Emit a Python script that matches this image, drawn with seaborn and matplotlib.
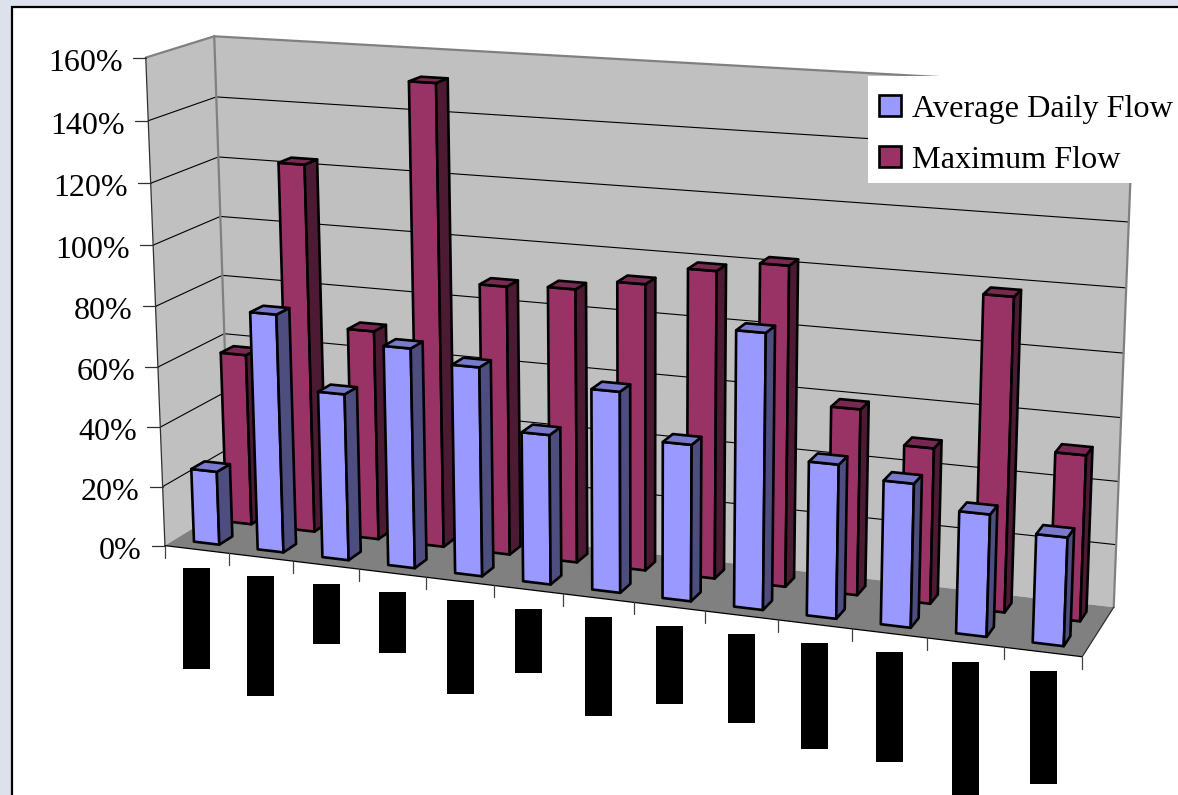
import numpy as np
import matplotlib
matplotlib.use("Agg")
import matplotlib.pyplot as plt
from matplotlib.patches import Polygon, Rectangle, Patch
import seaborn as sns

# Series values, in percent, one per category
average_daily_flow = [24.7, 79, 55, 72, 68, 48.5, 64.5, 50, 87, 48.5, 45, 38, 33.5]
maximum_flow = [58, 123, 70, 152, 88.5, 89.5, 93, 99, 102.5, 59.5, 49.5, 98.5, 52]
series_names = ["Average Daily Flow", "Maximum Flow"]
y_ticks = [0, 20, 40, 60, 80, 100, 120, 140, 160]
# Lengths of the solid category-label blocks below the floor
label_block_lengths = [101, 120, 60, 61, 94, 64, 99, 78, 89, 106, 110, 134, 113]

W, H = 1178, 795
Y_MAX = 160.0
N = len(average_daily_flow)

sns.set_theme(style="white")
plt.rcParams["font.family"] = ["Liberation Serif", "DejaVu Serif"]
blue, maroon = sns.color_palette(["#9999FF", "#993366"])
wall, floor = "#C0C0C0", "#808080"


def shade(colour, factor):
    return tuple(c * factor for c in colour)


# Camera of the plot box: (category fraction, depth fraction, height fraction) -> canvas
box_world = np.array([[0, 0, 0], [0, 0, 1], [0, 1, 0], [0, 1, 1],
                      [1, 0, 0], [1, 1, 0], [1, 1, 1]], float)
box_canvas = np.array([[164, 544], [146, 59], [231, 507], [214, 35],
                       [1083, 657], [1113, 607], [1134, 88]], float)


def solve_camera(world, canvas):
    rows = []
    for (a, b, c), (u, v) in zip(world, canvas):
        rows.append([a, b, c, 1, 0, 0, 0, 0, -u * a, -u * b, -u * c, -u])
        rows.append([0, 0, 0, 0, a, b, c, 1, -v * a, -v * b, -v * c, -v])
    return np.linalg.svd(np.array(rows))[2][-1].reshape(3, 4)


CAMERA = solve_camera(box_world, box_canvas)


def project(cat, depth, value):
    """Map a category position, floor depth and percentage onto the canvas."""
    p = CAMERA @ np.array([cat / N, depth, value / Y_MAX, 1.0])
    return p[0] / p[2], p[1] / p[2]


fig = plt.figure(figsize=(W / 100, H / 100), dpi=100, facecolor="#DDE1EC")
ax = fig.add_axes([0, 0, 1, 1])
ax.set_xlim(0, W)
ax.set_ylim(H, 0)
ax.axis("off")

# Chart area
ax.add_patch(Rectangle((12, 7), W + 20, H + 20, facecolor="white",
                       edgecolor="black", lw=1.6, zorder=0))


def face(points, fc, ec="none", lw=0.0, z=1):
    ax.add_patch(Polygon([project(*pt) for pt in points], closed=True, facecolor=fc,
                         edgecolor=ec, lw=lw, joinstyle="round", zorder=z))


def seg(a, b, colour, lw, z=2):
    pa, pb = project(*a), project(*b)
    ax.plot([pa[0], pb[0]], [pa[1], pb[1]], color=colour, lw=lw, zorder=z,
            solid_capstyle="round")


# Walls and floor
face([(0, 0, 0), (0, 1, 0), (0, 1, Y_MAX), (0, 0, Y_MAX)], wall)
face([(0, 1, 0), (N, 1, 0), (N, 1, Y_MAX), (0, 1, Y_MAX)], wall)
face([(0, 0, 0), (N, 0, 0), (N, 1, 0), (0, 1, 0)], floor)

for v in y_ticks[1:-1]:
    seg((0, 0, v), (0, 1, v), "black", 0.8)
    seg((0, 1, v), (N, 1, v), "black", 0.8)
seg((0, 0, Y_MAX), (0, 1, Y_MAX), "#808080", 1.6)
seg((0, 1, Y_MAX), (N, 1, Y_MAX), "#808080", 1.6)
seg((0, 1, 0), (0, 1, Y_MAX), "#808080", 1.6)
seg((N, 1, 0), (N, 1, Y_MAX), "#808080", 1.6)
seg((0, 0, 0), (0, 0, Y_MAX), "#303030", 0.9)
seg((0, 0, 0), (N, 0, 0), "black", 0.9)
seg((N, 0, 0), (N, 1, 0), "#303030", 0.9)

# Value axis ticks and labels
for v in y_ticks:
    x, y = project(0, 0, v)
    ax.plot([x - 13, x], [y, y], color="#303030", lw=0.9, zorder=2)
    ax.text(x - 23, y + 5.5, f"{v}%", ha="right", va="center", fontsize=23, color="black")

# Category ticks and solid label blocks
for k in range(N + 1):
    x, y = project(k, 0, 0)
    ax.plot([x, x], [y, y + 12], color="#404040", lw=0.9, zorder=2)
block_x = [project(k + 0.5, 0, 0)[0] for k in range(N)]
block_top = [project(k + 0.5, 0, 0)[1] + 19 for k in range(N)]
ax.bar(block_x, label_block_lengths, bottom=block_top, width=27, color="black",
       linewidth=0, zorder=2)

# Bars: the rear series first so the front series overlaps it
BAR_W = 0.4
BAR_D = 0.2


def draw_bar(k, d0, value, colour, z):
    c0, c1 = k + 0.5 - BAR_W / 2, k + 0.5 + BAR_W / 2
    d1 = d0 + BAR_D
    opts = dict(ec="black", lw=1.9, z=z)
    face([(c0, d0, 0), (c1, d0, 0), (c1, d0, value), (c0, d0, value)], colour, **opts)
    face([(c1, d0, 0), (c1, d1, 0), (c1, d1, value), (c1, d0, value)], shade(colour, 0.5), **opts)
    face([(c0, d0, value), (c1, d0, value), (c1, d1, value), (c0, d1, value)], shade(colour, 0.8), **opts)


for k, v in enumerate(maximum_flow):
    draw_bar(k, 0.65, v, maroon, 3 + k * 0.01)
for k, v in enumerate(average_daily_flow):
    draw_bar(k, 0.15, v, blue, 4 + k * 0.01)

# Legend on its own white panel
ax.add_patch(Rectangle((868, 76), 330, 107, facecolor="white", edgecolor="none", zorder=5))
handles = [Patch(facecolor=c, edgecolor="black", lw=1.9) for c in (blue, maroon)]
leg = ax.legend(handles, series_names, loc="upper left", bbox_to_anchor=(879 / W, 1 - 95 / H),
                bbox_transform=fig.transFigure, fontsize=23.2, frameon=False,
                borderpad=0, borderaxespad=0, handlelength=0.68, handleheight=0.6,
                handletextpad=0.35, labelspacing=0.68, labelcolor="black")
leg.set_zorder(6)

fig.savefig("out.png", dpi=100, facecolor=fig.get_facecolor())
